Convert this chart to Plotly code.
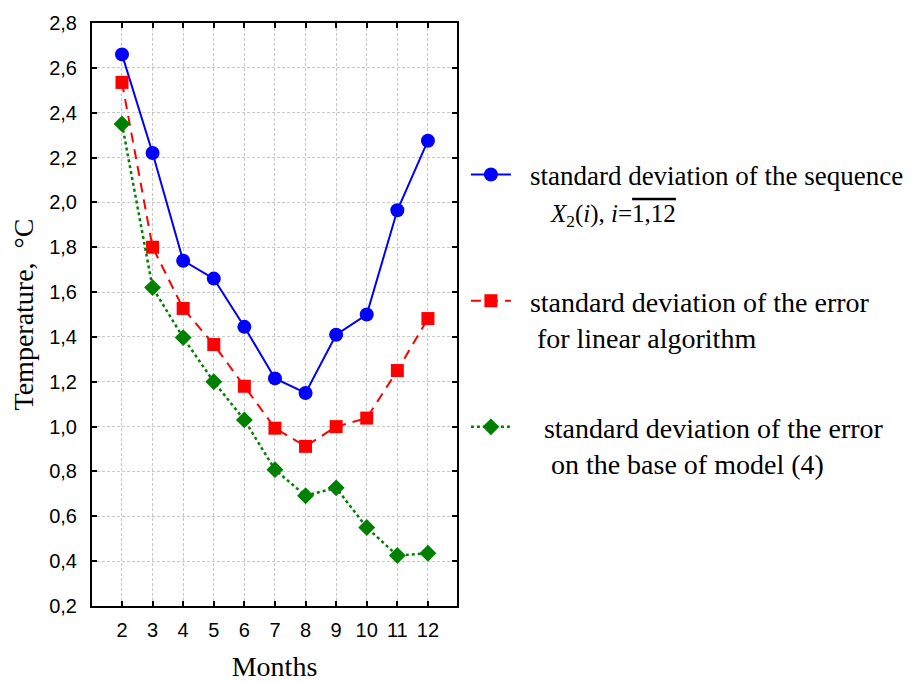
import plotly.graph_objects as go

months = [2, 3, 4, 5, 6, 7, 8, 9, 10, 11, 12]
sd_sequence = [2.66, 2.22, 1.74, 1.66, 1.445, 1.215, 1.15, 1.41, 1.50, 1.965, 2.275]
sd_linear = [2.535, 1.80, 1.527, 1.366, 1.18, 0.993, 0.912, 1.0, 1.038, 1.25, 1.482]
sd_model4 = [2.35, 1.62, 1.397, 1.20, 1.03, 0.808, 0.692, 0.727, 0.55, 0.425, 0.435]
y_ticks = [0.2, 0.4, 0.6, 0.8, 1.0, 1.2, 1.4, 1.6, 1.8, 2.0, 2.2, 2.4, 2.6, 2.8]

NB = "\u00a0"
name1 = (NB + "<br>" + NB * 2
         + "<span style='font-size:27px'>standard deviation of the sequence</span><br>"
         + NB * 5 + "<span style='font-size:25px'><i>X</i><sub>2</sub>(<i>i</i>), <i>i</i>="
         "<span style='text-decoration:overline'>1,12</span></span>")
name2 = NB + "<br>" + NB * 2 + "standard deviation of the error<br>" + NB * 3 + "for linear algorithm"
name3 = NB + "<br>" + NB * 4 + "standard deviation of the error<br>" + NB * 5 + "on the base of model (4)"

fig = go.Figure()
fig.add_trace(go.Scatter(
    x=months, y=sd_sequence, name=name1, mode="lines+markers",
    line=dict(color="#0000ff", width=2),
    marker=dict(symbol="circle", size=14, color="#0000ff"),
    legendgroup="a"))
fig.add_trace(go.Scatter(
    x=months, y=sd_linear, name=name2, mode="lines+markers",
    line=dict(color="#ff0000", width=2, dash="10px,7px"),
    marker=dict(symbol="square", size=13, color="#ff0000"),
    legendgroup="b"))
fig.add_trace(go.Scatter(
    x=months, y=sd_model4, name=name3, mode="lines+markers",
    line=dict(color="#008000", width=2.5, dash="dot"),
    marker=dict(symbol="diamond", size=13, color="#008000"),
    legendgroup="c"))

axis_common = dict(
    showline=True, linecolor="black", linewidth=2, mirror="ticks",
    ticks="inside", ticklen=5, tickwidth=2, tickcolor="black",
    showgrid=True, gridcolor="#c8c8c8", griddash="3px,2px", gridwidth=1,
    zeroline=False, automargin=False,
    tickfont=dict(family="Liberation Sans, Arial, sans-serif", size=20, color="black"),
    title_font=dict(family="Liberation Serif, Times New Roman, serif", size=28, color="black"),
)

fig.update_xaxes(range=[1.02, 12.95], tickvals=months, ticklabelstandoff=5,
                 title_text="Months", title_standoff=38, **axis_common)
fig.update_yaxes(range=[0.2, 2.8], tickvals=y_ticks, tickformat=".1f",
                 ticklabelstandoff=9,
                 title_text="Temperature,  °C", title_standoff=8, **axis_common)

fig.update_layout(
    width=914, height=674,
    margin=dict(l=84, r=465, t=15, b=76),
    paper_bgcolor="white", plot_bgcolor="white",
    separators=", ",
    showlegend=True,
    legend=dict(
        xref="container", yref="paper",
        x=0.501, xanchor="left", y=0.845, yanchor="top",
        maxheight=560,
        font=dict(family="Liberation Serif, Times New Roman, serif", size=28, color="black"),
        tracegroupgap=14, itemwidth=40, bgcolor="rgba(0,0,0,0)",
    ),
)

fig.write_html("out.html")
